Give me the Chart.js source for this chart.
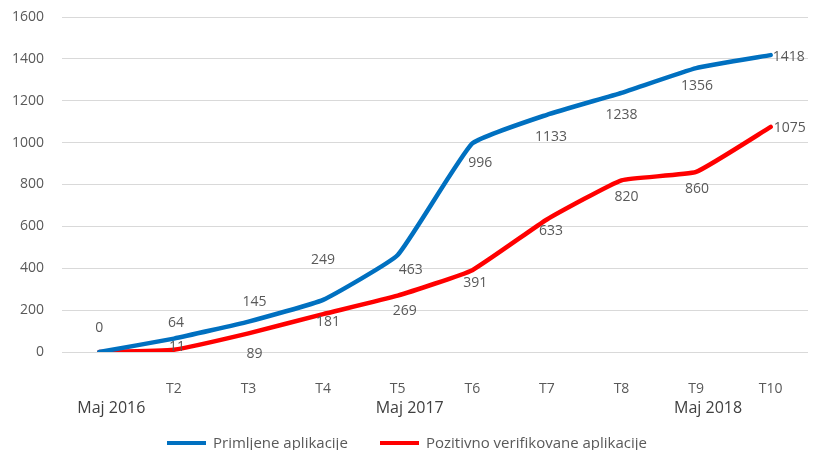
<!DOCTYPE html>
<html>
<head>
<meta charset="utf-8">
<script src="https://cdn.jsdelivr.net/npm/chart.js@4/dist/chart.umd.min.js"></script>
<style>
    body { margin: 0; background: #fff; }
    #wrap { width: 816px; height: 450px; }
</style>
</head>
<body>
<div id="wrap"><canvas id="apps-chart" width="816" height="450"></canvas></div>
<script>
// Data
const months = ["", "T2", "T3", "T4", "T5", "T6", "T7", "T8", "T9", "T10"];
const periodLabels = ["Maj 2016", "", "", "", "Maj 2017", "", "", "", "Maj 2018", ""];
const received = [0, 64, 145, 249, 463, 996, 1133, 1238, 1356, 1418];
const verified = [0, 11, 89, 181, 269, 391, 633, 820, 860, 1075];
const yTicks = [0, 200, 400, 600, 800, 1000, 1200, 1400, 1600];

// Label offsets (dx, dy) for the value labels, like in the original
const receivedLabelPos = [[0, -24], [2, -16], [6, -20], [0, -40], [13, 15], [8, 20], [4, 22], [0, 22], [1, 18], [18, 2]];
const verifiedLabelPos = [null, [3, -3], [6, 21], [5, 8], [7, 15], [3, 13], [4, 12], [5, 17], [1, 17], [19, 1]];

const fontFamily = "'Open Sans', 'Liberation Sans', sans-serif";

// Value labels next to points
const valueLabels = {
    id: 'valueLabels',
    afterDatasetsDraw(chart) {
        const ctx = chart.ctx;
        const offsets = [receivedLabelPos, verifiedLabelPos];
        ctx.save();
        ctx.font = "14px " + fontFamily;
        ctx.fillStyle = "#595959";
        ctx.textAlign = "center";
        ctx.textBaseline = "middle";
        chart.data.datasets.forEach((ds, i) => {
            const meta = chart.getDatasetMeta(i);
            meta.data.forEach((pt, j) => {
                const off = offsets[i][j];
                if (!off) return;
                ctx.fillText(ds.data[j], pt.x + off[0], pt.y + off[1]);
            });
        });
        ctx.restore();
    }
};

// Second row of x labels (years)
const periodRow = {
    id: 'periodRow',
    afterDraw(chart) {
        const ctx = chart.ctx;
        const x = chart.scales.x;
        ctx.save();
        ctx.font = "16px " + fontFamily;
        ctx.fillStyle = "#404040";
        ctx.textAlign = "center";
        ctx.textBaseline = "middle";
        periodLabels.forEach((lbl, i) => {
            if (lbl) ctx.fillText(lbl, x.getPixelForValue(i) + 12, chart.chartArea.bottom + 56);
        });
        ctx.restore();
    }
};

// Legend with line markers
const lineLegend = {
    id: 'lineLegend',
    afterDraw(chart) {
        const ctx = chart.ctx;
        const starts = [167, 380];
        ctx.save();
        ctx.font = "15px " + fontFamily;
        ctx.textBaseline = "middle";
        ctx.textAlign = "left";
        chart.data.datasets.forEach((ds, i) => {
            const y = 443;
            ctx.strokeStyle = ds.borderColor;
            ctx.lineWidth = 4;
            ctx.beginPath();
            ctx.moveTo(starts[i], y);
            ctx.lineTo(starts[i] + 39, y);
            ctx.stroke();
            ctx.fillStyle = "#595959";
            ctx.fillText(ds.label, starts[i] + 46, y + 1);
        });
        ctx.restore();
    }
};

const appsCanvas = document.getElementById("apps-chart");

let appsChart = new Chart(appsCanvas, {
    type: 'line',
    data: {
        labels: months,
        datasets: [{
            label: 'Primljene aplikacije',
            data: received,
            borderColor: '#0070C0',
            backgroundColor: '#0070C0',
            borderWidth: 4.5,
            pointRadius: 0,
            tension: 0.12,
            borderCapStyle: 'round'
        }, {
            label: 'Pozitivno verifikovane aplikacije',
            data: verified,
            borderColor: '#FF0000',
            backgroundColor: '#FF0000',
            borderWidth: 4.5,
            pointRadius: 0,
            tension: 0.12,
            borderCapStyle: 'round'
        }]
    },
    options: {
        responsive: false,
        animation: false,
        layout: {
            padding: { top: 17, right: 8, left: 0, bottom: 0 }
        },
        scales: {
            x: {
                offset: true,
                grid: { display: false },
                border: { display: false },
                ticks: {
                    color: '#595959',
                    font: { family: fontFamily, size: 14 },
                    padding: 21,
                    maxRotation: 0,
                    autoSkip: false
                },
                afterFit(scale) { scale.height = 98; }
            },
            y: {
                min: 0,
                max: 1600,
                afterBuildTicks(scale) { scale.ticks = yTicks.map(v => ({ value: v })); },
                grid: { color: '#d9d9d9', lineWidth: 1, drawTicks: false },
                border: { display: false },
                ticks: {
                    color: '#595959',
                    font: { family: fontFamily, size: 14 },
                    padding: 18,
                    callback: (v) => String(v)
                },
                afterFit(scale) {
                    scale.width = 62;
                    scale.paddingTop = 0;
                    scale.paddingBottom = 0;
                }
            }
        },
        plugins: {
            legend: { display: false },
            tooltip: { enabled: false }
        }
    },
    plugins: [valueLabels, periodRow, lineLegend]
});
</script>
</body>
</html>
